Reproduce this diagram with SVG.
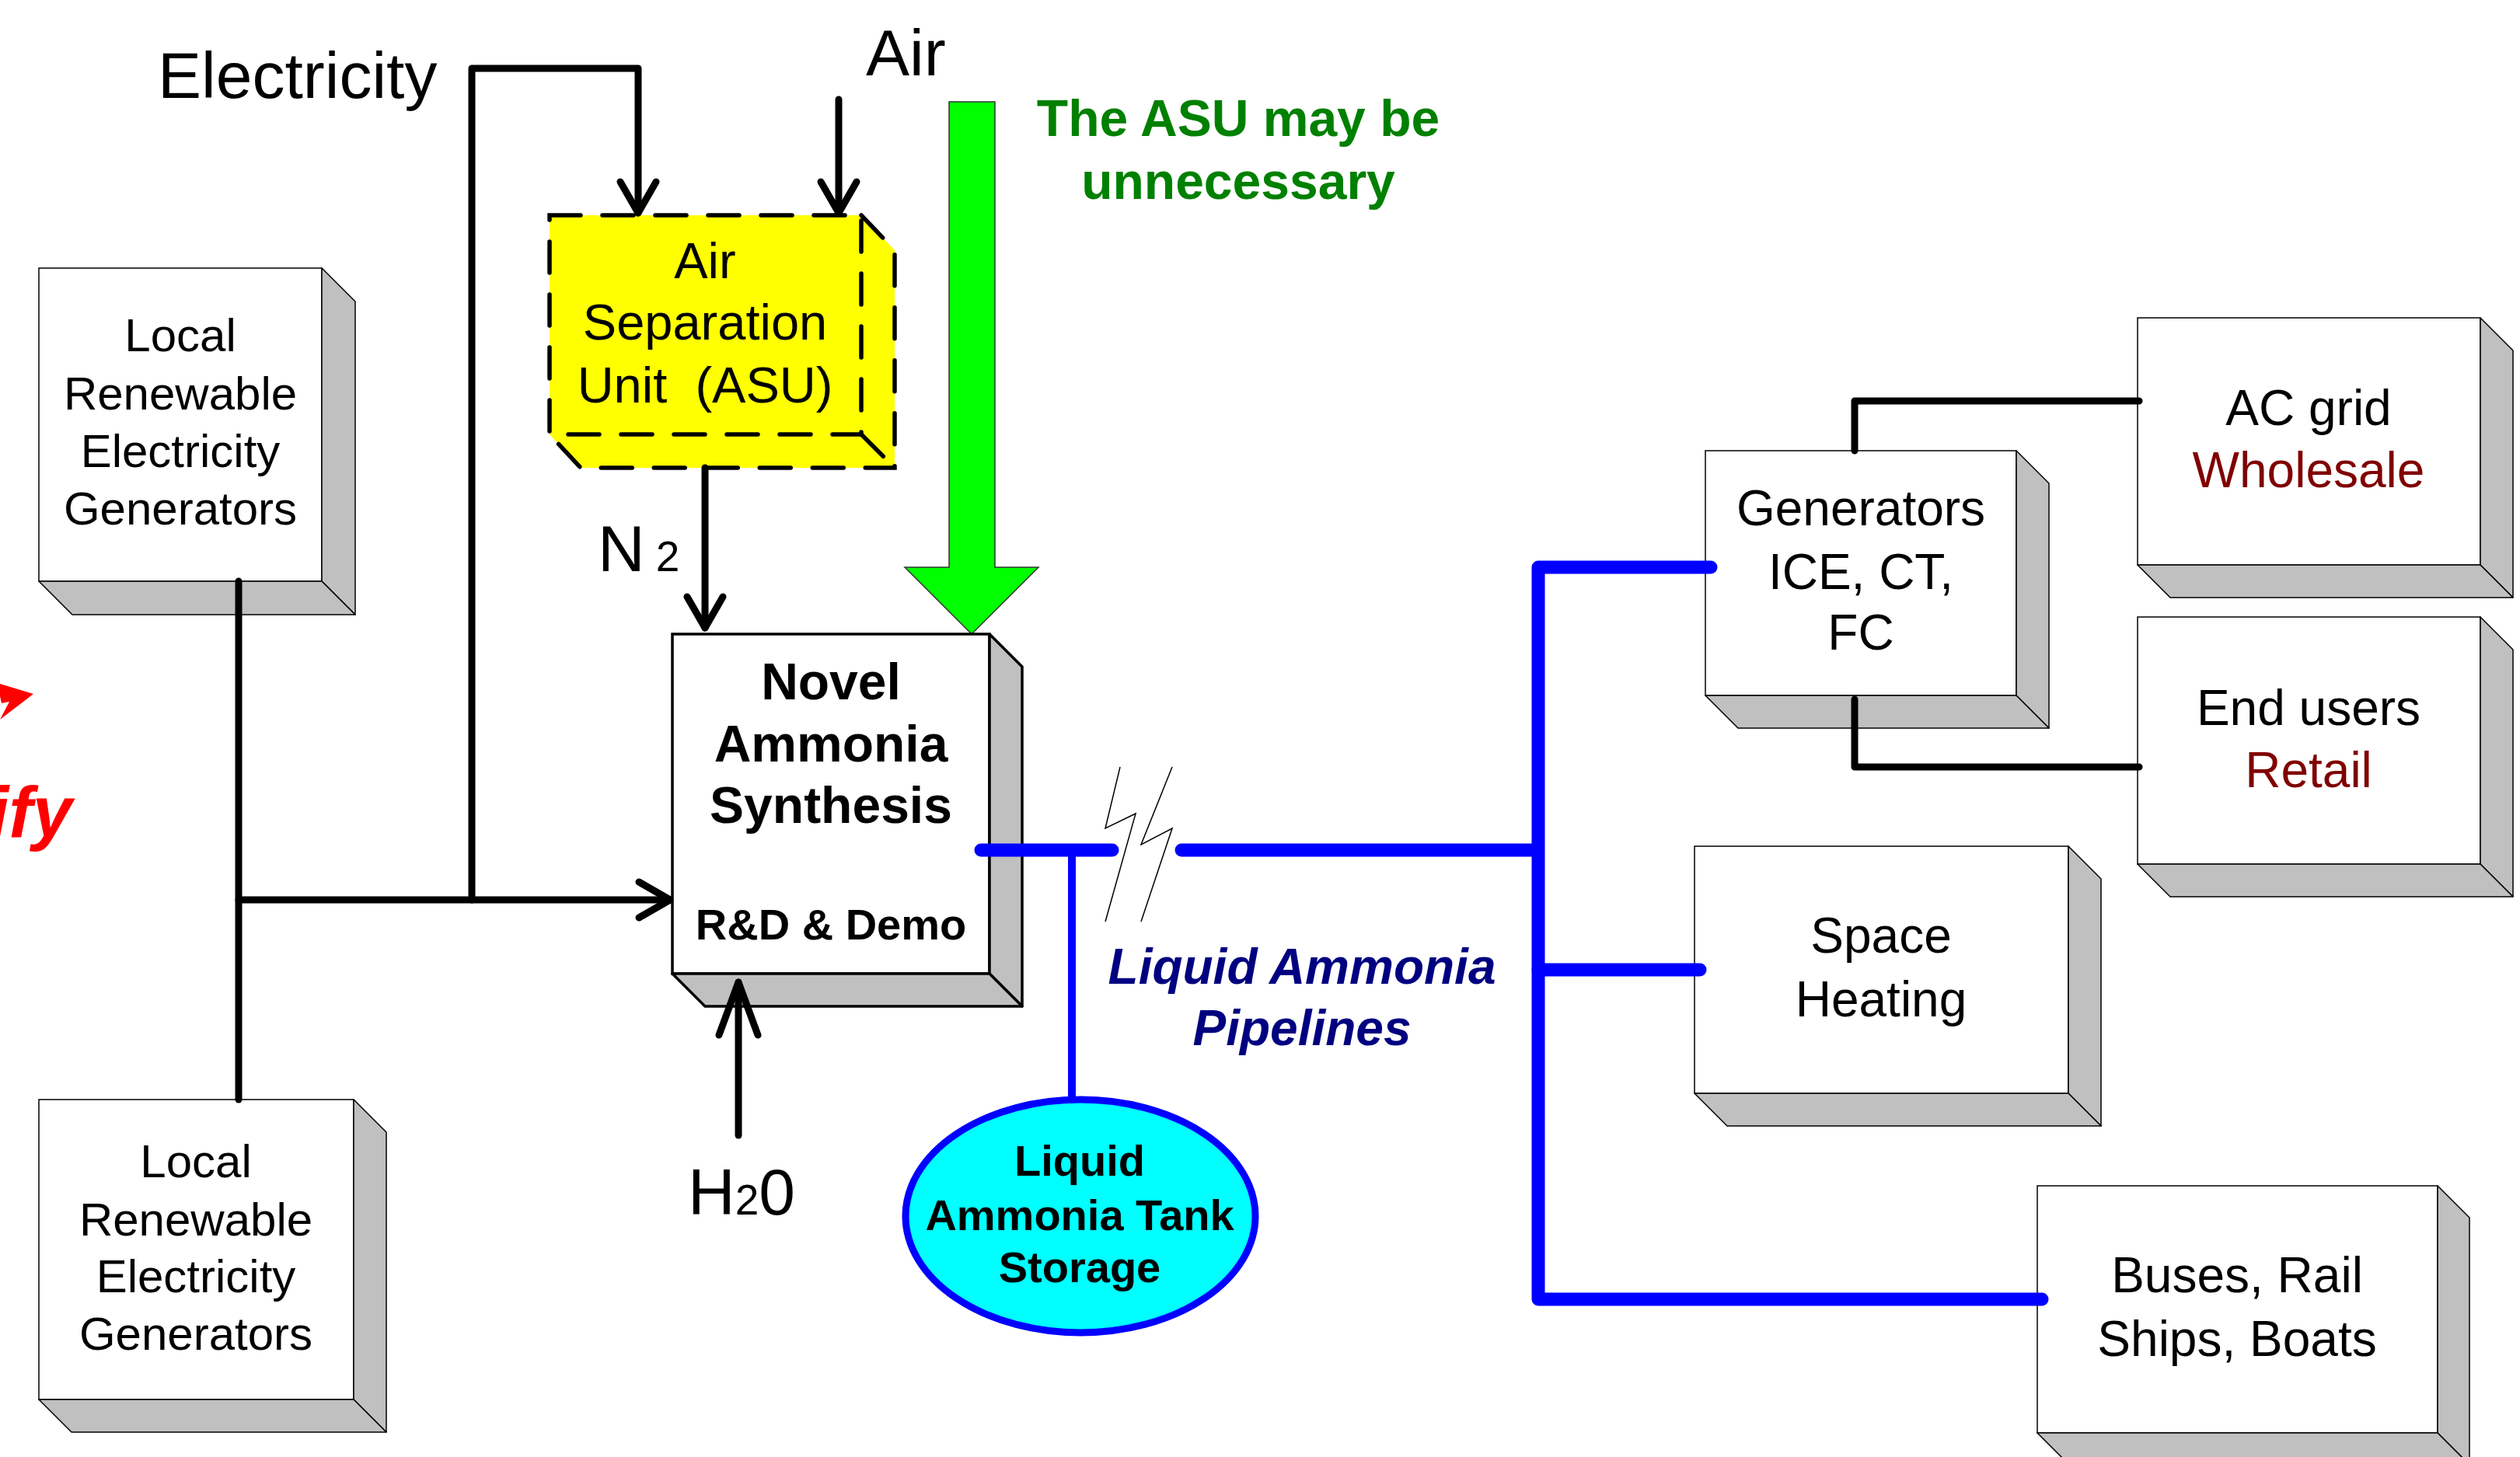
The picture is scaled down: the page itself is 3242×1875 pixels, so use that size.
<svg xmlns="http://www.w3.org/2000/svg" width="3242" height="1875" viewBox="0 0 3242 1875">
<defs>
<style>
.face{fill:#FFFFFF;stroke:#000;stroke-width:1.5}
.shade{fill:#C0C0C0;stroke:#000;stroke-width:1.5;stroke-linejoin:round}
.thick .face,.thick .shade{stroke-width:3.5}
.lbl{font-family:"Liberation Sans",Arial,sans-serif;fill:#000;text-anchor:middle}
.s64{font-size:64px}
.s60{font-size:60px}
.s65{font-size:65px}
.s66{font-size:66px}
.s56{font-size:56px}
.bold{font-weight:bold}
.wire{fill:none;stroke:#000;stroke-width:9;stroke-linecap:round;stroke-linejoin:round}
.pipe{fill:none;stroke:#0000FF;stroke-width:17;stroke-linecap:round;stroke-linejoin:round}
.red{fill:#800000}
</style>
<marker id="ah" markerUnits="userSpaceOnUse" viewBox="-50 -30 60 60" refX="0" refY="0" markerWidth="60" markerHeight="60" orient="auto" overflow="visible">
<path d="M-40,-23 L0,0 L-40,23" fill="none" stroke="#000" stroke-width="9" stroke-linecap="round" stroke-linejoin="round"/>
</marker>
<marker id="ahLong" markerUnits="userSpaceOnUse" viewBox="-80 -30 90 60" refX="0" refY="0" markerWidth="90" markerHeight="60" orient="auto" overflow="visible">
<path d="M-68,-25 L0,0 L-68,25" fill="none" stroke="#000" stroke-width="9" stroke-linecap="round" stroke-linejoin="round"/>
</marker>
</defs>
<rect x="0" y="0" width="3242" height="1875" fill="#FFFFFF"/>

<!-- free labels -->
<g id="labels" font-family="Liberation Sans, Arial, sans-serif">
<text x="203" y="126" font-size="84">Electricity</text>
<text x="1114" y="97" font-size="84">Air</text>
<text x="769" y="735" font-size="84">N<tspan dx="14" font-size="55">2</tspan></text>
<text x="885" y="1563" font-size="84">H<tspan font-size="55">2</tspan>0</text>
<text x="1593" y="175" font-size="66" font-weight="bold" fill="#008000" text-anchor="middle">The ASU may be</text>
<text x="1593" y="256" font-size="66" font-weight="bold" fill="#008000" text-anchor="middle">unnecessary</text>
<text x="1675" y="1266" font-size="64" font-weight="bold" font-style="italic" fill="#000080" text-anchor="middle">Liquid Ammonia</text>
<text x="1675" y="1345" font-size="64" font-weight="bold" font-style="italic" fill="#000080" text-anchor="middle">Pipelines</text>
<text x="93" y="1077" font-size="92" font-weight="bold" font-style="italic" fill="#FF0000" text-anchor="end">ify</text>
<polygon points="0,880 43,893 0,926 12,903 2,905 0,896" fill="#FF0000"/>
</g>

<!-- green arrow -->
<g id="asu-note-arrow">
<polygon points="1221,131 1280,131 1280,730 1336,730 1250,816 1164,730 1221,730" fill="#00FF00" stroke="#333" stroke-width="1.5"/>
</g>

<!-- nodes -->
<g id="local-gen-top">
<rect class="face" x="50" y="345" width="364" height="403"/>
<polygon class="shade" points="414,345 457,388 457,791 414,748"/>
<polygon class="shade" points="50,748 414,748 457,791 93,791"/>
<text class="lbl s60" x="232" y="452">Local</text>
<text class="lbl s60" x="232" y="527">Renewable</text>
<text class="lbl s60" x="232" y="601">Electricity</text>
<text class="lbl s60" x="232" y="675">Generators</text>
</g>

<g id="local-gen-bottom">
<rect class="face" x="50" y="1415" width="405" height="386"/>
<polygon class="shade" points="455,1415 497,1457 497,1843 455,1801"/>
<polygon class="shade" points="50,1801 455,1801 497,1843 92,1843"/>
<text class="lbl s60" x="252" y="1515">Local</text>
<text class="lbl s60" x="252" y="1590">Renewable</text>
<text class="lbl s60" x="252" y="1663">Electricity</text>
<text class="lbl s60" x="252" y="1737">Generators</text>
</g>

<g id="asu">
<polygon points="707,277 1108,277 1151,322 1151,602 747,602 707,559" fill="#FFFF00"/>
<g fill="none" stroke="#000" stroke-width="5.5" stroke-dasharray="40 28" stroke-linecap="round">
<rect x="707" y="277" width="401" height="282"/>
<path d="M1108,277 L1151,322 L1151,602 L747,602 L707,559 M1108,559 L1151,602"/>
</g>
<text class="lbl s65" x="907" y="358">Air</text>
<text class="lbl s65" x="907" y="437">Separation</text>
<text class="lbl s65" x="907" y="518" xml:space="preserve">Unit  (ASU)</text>
</g>

<g id="ammonia-synthesis" class="thick">
<rect class="face" x="865" y="816" width="408" height="437"/>
<polygon class="shade" points="1273,816 1315,858 1315,1295 1273,1253"/>
<polygon class="shade" points="865,1253 1273,1253 1315,1295 907,1295"/>
<text class="lbl bold s66" x="1069" y="900">Novel</text>
<text class="lbl bold s66" x="1069" y="980">Ammonia</text>
<text class="lbl bold s66" x="1069" y="1059">Synthesis</text>
<text class="lbl bold s56" x="1069" y="1209">R&amp;D &amp; Demo</text>
</g>

<g id="tank-storage">
<ellipse cx="1390" cy="1565" rx="225" ry="150" fill="#00FFFF" stroke="#0000FF" stroke-width="9"/>
<text class="lbl bold s56" x="1389" y="1513">Liquid</text>
<text class="lbl bold s56" x="1389" y="1583">Ammonia Tank</text>
<text class="lbl bold s56" x="1389" y="1650">Storage</text>
</g>

<g id="generators">
<rect class="face" x="2194" y="580" width="400" height="315"/>
<polygon class="shade" points="2594,580 2636,622 2636,937 2594,895"/>
<polygon class="shade" points="2194,895 2594,895 2636,937 2236,937"/>
<text class="lbl s64" x="2394" y="676">Generators</text>
<text class="lbl s64" x="2394" y="758">ICE, CT,</text>
<text class="lbl s64" x="2394" y="836">FC</text>
</g>

<g id="ac-grid">
<rect class="face" x="2750" y="409" width="441" height="318"/>
<polygon class="shade" points="3191,409 3233,451 3233,769 3191,727"/>
<polygon class="shade" points="2750,727 3191,727 3233,769 2792,769"/>
<text class="lbl s64" x="2970" y="547">AC grid</text>
<text class="lbl s64 red" x="2970" y="627">Wholesale</text>
</g>

<g id="end-users">
<rect class="face" x="2750" y="794" width="441" height="318"/>
<polygon class="shade" points="3191,794 3233,836 3233,1154 3191,1112"/>
<polygon class="shade" points="2750,1112 3191,1112 3233,1154 2792,1154"/>
<text class="lbl s64" x="2970" y="933">End users</text>
<text class="lbl s64 red" x="2970" y="1013">Retail</text>
</g>

<g id="space-heating">
<rect class="face" x="2180" y="1089" width="481" height="318"/>
<polygon class="shade" points="2661,1089 2703,1131 2703,1449 2661,1407"/>
<polygon class="shade" points="2180,1407 2661,1407 2703,1449 2222,1449"/>
<text class="lbl s64" x="2420" y="1226">Space</text>
<text class="lbl s64" x="2420" y="1308">Heating</text>
</g>

<g id="transport">
<rect class="face" x="2621" y="1526" width="515" height="318"/>
<polygon class="shade" points="3136,1526 3177,1567 3177,1885 3136,1844"/>
<polygon class="shade" points="2621,1844 3136,1844 3177,1885 2662,1885"/>
<text class="lbl s64" x="2878" y="1663">Buses, Rail</text>
<text class="lbl s64" x="2878" y="1745">Ships, Boats</text>
</g>

<!-- connectors -->
<g id="connectors">
<path class="wire" d="M307,748 L307,1415"/>
<path class="wire" d="M307,1158 L862,1158" marker-end="url(#ah)"/>
<path class="wire" d="M607,1158 L607,88 L821,88 L821,274" marker-end="url(#ah)"/>
<path class="wire" d="M1079,128 L1079,274" marker-end="url(#ah)"/>
<path class="wire" d="M907,602 L907,808" marker-end="url(#ah)"/>
<path class="wire" d="M950,1461 L950,1264" marker-end="url(#ahLong)"/>
<path class="wire" d="M2386,580 L2386,516 L2752,516"/>
<path class="wire" d="M2386,900 L2386,987 L2752,987"/>
<path class="pipe" d="M1262,1094 L1431,1094"/>
<path class="pipe" d="M1520,1094 L1978,1094"/>
<path class="pipe" d="M2201,730 L1979,730 L1979,1672 L2627,1672"/>
<path class="pipe" d="M1979,1248 L2187,1248"/>
<path d="M1379,1094 L1379,1412" fill="none" stroke="#0000FF" stroke-width="10"/>
<g fill="none" stroke="#000" stroke-width="1.5">
<polyline points="1441,987 1422,1066 1461,1047 1422,1186"/>
<polyline points="1508,987 1468,1087 1508,1066 1468,1186"/>
</g>
</g>
</svg>
